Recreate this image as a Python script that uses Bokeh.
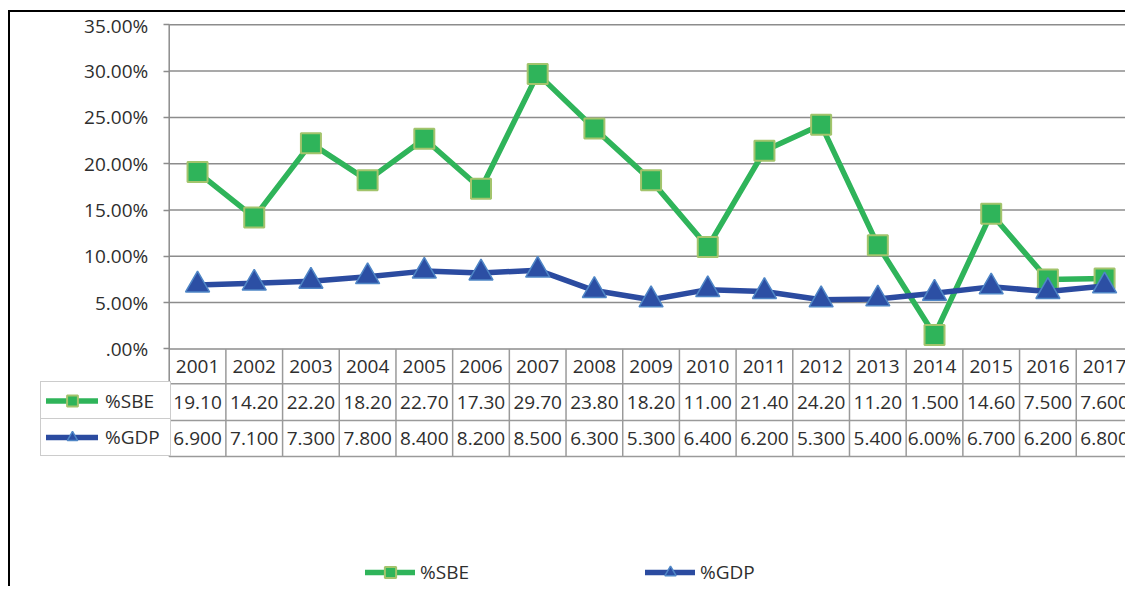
from bokeh.plotting import figure
from bokeh.models import Range1d, FixedTicker, Legend, LegendItem, ColumnDataSource
from bokeh.embed import file_html
from bokeh.resources import INLINE
from bokeh.core.properties import value

# ---------------- data ----------------
years = ["2001", "2002", "2003", "2004", "2005", "2006", "2007", "2008", "2009",
         "2010", "2011", "2012", "2013", "2014", "2015", "2016", "2017"]
sbe = [19.10, 14.20, 22.20, 18.20, 22.70, 17.30, 29.70, 23.80, 18.20,
       11.00, 21.40, 24.20, 11.20, 1.50, 14.60, 7.50, 7.60]
gdp = [6.9, 7.1, 7.3, 7.8, 8.4, 8.2, 8.5, 6.3, 5.3,
       6.4, 6.2, 5.3, 5.4, 6.0, 6.7, 6.2, 6.8]
sbe_text = ["19.10", "14.20", "22.20", "18.20", "22.70", "17.30", "29.70", "23.80", "18.20",
            "11.00", "21.40", "24.20", "11.20", "1.500", "14.60", "7.500", "7.600"]
gdp_text = ["6.900", "7.100", "7.300", "7.800", "8.400", "8.200", "8.500", "6.300", "5.300",
            "6.400", "6.200", "5.300", "5.400", "6.00%", "6.700", "6.200", "6.800"]
y_ticks = [0, 5, 10, 15, 20, 25, 30, 35]
y_tick_labels = [".00%", "5.00%", "10.00%", "15.00%", "20.00%", "25.00%", "30.00%", "35.00%"]
series_names = ["%SBE", "%GDP"]

# ---------------- styles / geometry (page pixels) ----------------
FONT = "Open Sans"
FS = "19px"
TXT = "#2e2e2e"
GRID = "#8c8c8c"
TBL = "#9a9a9a"
GREEN = "#2fb45a"
GREEN_EDGE = "#a3c46c"
BLUE = "#2b4ba0"
BLUE_FILL = "#2c4fa4"
BLUE_EDGE = "#4f86c6"

CX0, CY0 = 10, 12          # canvas origin on the page (after css margin + border)
W, H = 1117, 576
FRAME_L, FRAME_T = CX0, 16
FRAME_R, FRAME_B = CX0 + W, CY0 + H
CELL = 56.69               # px per category
PXY = 9.26                 # px per percentage point
Y0_PAGE = 348.4            # page y of 0%
AXIS_PAGE = 168.7          # page x of the category axis start

x_start = 0.5 - (AXIS_PAGE - FRAME_L) / CELL
x_end = 0.5 + (FRAME_R - AXIS_PAGE) / CELL
y_end = (Y0_PAGE - FRAME_T) / PXY
y_start = -(FRAME_B - Y0_PAGE) / PXY


def ydat(page_y):
    return (Y0_PAGE - page_y) / PXY


n = len(years)
xs = list(range(1, n + 1))
src = ColumnDataSource(dict(x=xs, year=years, sbe=sbe, gdp=gdp,
                            sbe_t=sbe_text, gdp_t=gdp_text))

p = figure(width=W, height=H, output_backend="svg", toolbar_location=None,
           x_range=Range1d(x_start, x_end), y_range=Range1d(y_start, y_end),
           x_axis_location=None,
           min_border_left=0, min_border_top=FRAME_T - CY0,
           min_border_right=0, min_border_bottom=0,
           background_fill_color="white", border_fill_color="white",
           outline_line_color=None,
           styles={"border-left": "2px solid #000", "border-top": "2px solid #000",
                   "margin-left": "8px", "margin-top": "10px"})

# y axis drawn at the start of the category axis
yax = p.yaxis[0]
yax.fixed_location = 0.5
yax.ticker = FixedTicker(ticks=y_ticks)
yax.major_label_overrides = {t: l for t, l in zip(y_ticks, y_tick_labels)}
yax.axis_line_color = None
yax.major_tick_out = 6
yax.major_tick_in = 0
yax.minor_tick_line_color = None
yax.major_tick_line_color = GRID
yax.major_tick_line_width = 1.5
yax.major_label_text_font = FONT
yax.major_label_text_font_size = FS
yax.major_label_text_color = TXT
yax.major_label_standoff = 15
p.ygrid.visible = False
p.xgrid.visible = False

# horizontal gridlines (from the value axis to the right)
p.segment(x0=[0.5] * len(y_ticks), x1=[x_end + 1] * len(y_ticks), y0=y_ticks, y1=y_ticks,
          line_color=GRID, line_width=1.5)

# ---------------- data table below the plot ----------------
row_bounds = [ydat(383.3), ydat(420), ydat(456)]
row_mid = [ydat(366), ydat(402), ydat(437.5)]

p.segment(x0=[0.5] * 3, x1=[x_end + 1] * 3, y0=row_bounds, y1=row_bounds,
          line_color=TBL, line_width=1.5)
vx = [i + 0.5 for i in range(1, n + 1)]
p.segment(x0=vx, x1=vx, y0=[row_bounds[-1]] * len(vx), y1=[0] * len(vx),
          line_color=TBL, line_width=1.5)
# value axis line continuing into the table
p.segment(x0=[0.5], x1=[0.5], y0=[row_bounds[-1]], y1=[y_ticks[-1]],
          line_color=GRID, line_width=1.5)

for col, ym in zip(["year", "sbe_t", "gdp_t"], row_mid):
    p.text(x="x", y=ym, text=col, source=src, text_font=value(FONT),
           text_font_size=FS, text_color=TXT, text_align="center",
           text_baseline="middle")

# ---------------- series ----------------
sbe_line = p.line("x", "sbe", source=src, line_color=GREEN, line_width=5.5,
                  line_join="round", line_cap="round")
sbe_pts = p.scatter("x", "sbe", source=src, marker="square", size=20,
                    fill_color=GREEN, line_color=GREEN_EDGE, line_width=2)
gdp_line = p.line("x", "gdp", source=src, line_color=BLUE, line_width=5.5,
                  line_join="round", line_cap="round")
gdp_pts = p.scatter("x", "gdp", source=src, marker="triangle", size=24,
                    fill_color=BLUE_FILL, line_color=BLUE_EDGE, line_width=1.5)

renderers = [[sbe_line, sbe_pts], [gdp_line, gdp_pts]]

# legend keys inside the table (one per row)
for name, rs, top, bot in [(series_names[0], renderers[0], 383.3, 420),
                           (series_names[1], renderers[1], 420, 456)]:
    hgt = int(round(bot - top)) - 10
    lg = Legend(items=[LegendItem(label=value(name), renderers=rs)],
                location=(40 - FRAME_L, FRAME_B - bot),
                orientation="vertical", padding=5, spacing=0, margin=0,
                glyph_width=52, glyph_height=hgt, label_standoff=7,
                label_width=60, label_height=hgt,
                label_text_font=FONT, label_text_font_size=FS, label_text_color=TXT,
                border_line_color=TBL, border_line_width=1.5,
                background_fill_color="white", background_fill_alpha=1.0)
    p.add_layout(lg)

# bottom legend
bl = Legend(items=[LegendItem(label=value(series_names[0]), renderers=renderers[0]),
                   LegendItem(label=value(series_names[1]), renderers=renderers[1])],
            location=(365 - FRAME_L, FRAME_B - 586),
            orientation="horizontal", padding=0, spacing=280 - 50 - 5 - 60, margin=0,
            glyph_width=50, glyph_height=28, label_standoff=5,
            label_width=60, label_height=28,
            label_text_font=FONT, label_text_font_size=FS, label_text_color=TXT,
            border_line_color=None, background_fill_alpha=0.0)
p.add_layout(bl)

open("out.html", "w").write(file_html(p, INLINE))
